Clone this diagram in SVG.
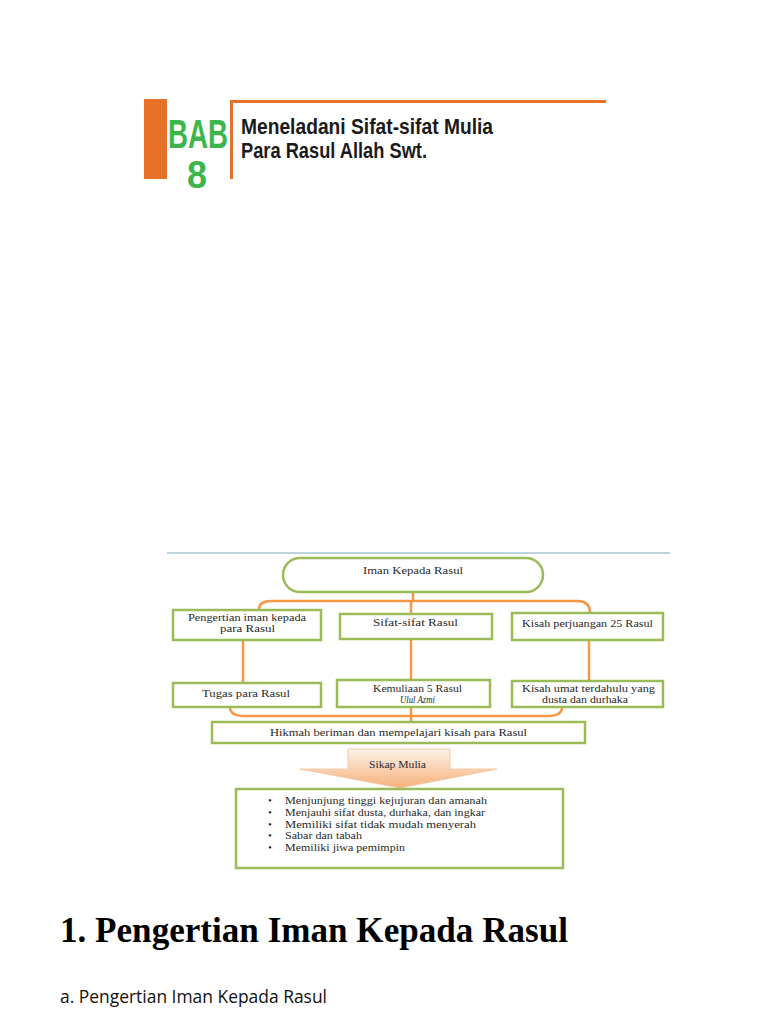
<svg xmlns="http://www.w3.org/2000/svg" width="768" height="1024" viewBox="0 0 768 1024">
<defs>
<linearGradient id="ag" x1="0" y1="0" x2="0" y2="1">
<stop offset="0" stop-color="#fdf3ea"/>
<stop offset="1" stop-color="#f6b07a"/>
</linearGradient>
<style>
.bx{fill:#fff;stroke:#9bbb59;stroke-width:2.5}
.cn{fill:none;stroke:#f79646;stroke-width:2.5}
.t{font-family:"Liberation Serif",serif;font-size:11px;fill:#2a2a2a}
.hd{font-family:"Liberation Sans",Arial,sans-serif;font-weight:bold}
</style>
</defs>
<rect width="768" height="1024" fill="#fff"/>
<g id="header">
<rect x="144" y="99" width="23" height="80" fill="#e8712a"/>
<text class="hd" x="168" y="148" font-size="40" fill="#3cb54a" textLength="60" lengthAdjust="spacingAndGlyphs">BAB</text>
<text class="hd" x="187" y="188" font-size="38" fill="#3cb54a" textLength="20" lengthAdjust="spacingAndGlyphs">8</text>
<path d="M231.5,179 V101.5 H606" fill="none" stroke="#e8712a" stroke-width="3"/>
<text class="hd" x="241" y="134" font-size="21.5" fill="#1a1a1a" textLength="252" lengthAdjust="spacingAndGlyphs">Meneladani Sifat-sifat Mulia</text>
<text class="hd" x="241" y="158" font-size="21.5" fill="#1a1a1a" textLength="186" lengthAdjust="spacingAndGlyphs">Para Rasul Allah Swt.</text>
</g>
<line x1="167" y1="553" x2="670" y2="553" stroke="#a9c4cf" stroke-width="1.5"/>
<g id="connectors">
<path class="cn" d="M413,592 V601"/>
<path class="cn" d="M259,609 Q259,601 272,601 H577 Q590,601 590,613"/>
<path class="cn" d="M411,601 V614"/>
<path class="cn" d="M243,640 V683"/>
<path class="cn" d="M411,639 V680"/>
<path class="cn" d="M589,639 V681"/>
<path class="cn" d="M230,707 Q230,716 244,716 H548 Q562,716 562,707"/>
<path class="cn" d="M411,707 V722"/>
</g>
<g id="n-iman">
<rect class="bx" x="283" y="558" width="260" height="34" rx="17"/>
<text class="t" x="363" y="574" textLength="100" lengthAdjust="spacingAndGlyphs">Iman Kepada Rasul</text>
</g>
<g id="n-pengertian">
<rect class="bx" x="173" y="610" width="148" height="30"/>
<text class="t" x="188" y="621" textLength="118" lengthAdjust="spacingAndGlyphs">Pengertian iman kepada</text>
<text class="t" x="220" y="632" textLength="55" lengthAdjust="spacingAndGlyphs">para Rasul</text>
</g>
<g id="n-sifat">
<rect class="bx" x="340" y="614" width="152" height="25"/>
<text class="t" x="373" y="626" textLength="85" lengthAdjust="spacingAndGlyphs">Sifat-sifat  Rasul</text>
</g>
<g id="n-kisah">
<rect class="bx" x="512" y="613" width="151" height="27"/>
<text class="t" x="522" y="627" textLength="131" lengthAdjust="spacingAndGlyphs">Kisah perjuangan 25 Rasul</text>
</g>
<g id="n-tugas">
<rect class="bx" x="173" y="683" width="148" height="24"/>
<text class="t" x="202" y="697" textLength="88" lengthAdjust="spacingAndGlyphs">Tugas para Rasul</text>
</g>
<g id="n-kemuliaan">
<rect class="bx" x="337" y="680" width="153" height="27"/>
<text class="t" x="373" y="692" textLength="89" lengthAdjust="spacingAndGlyphs">Kemuliaan 5 Rasul</text>
<text class="t" x="400" y="703" font-style="italic" font-size="10" textLength="35" lengthAdjust="spacingAndGlyphs">Ulul Azmi</text>
</g>
<g id="n-umat">
<rect class="bx" x="512" y="681" width="151" height="26"/>
<text class="t" x="522" y="692" textLength="133" lengthAdjust="spacingAndGlyphs">Kisah umat terdahulu yang</text>
<text class="t" x="542" y="703" textLength="86" lengthAdjust="spacingAndGlyphs">dusta dan durhaka</text>
</g>
<g id="n-hikmah">
<rect class="bx" x="212" y="722" width="373" height="21"/>
<text class="t" x="270" y="736" textLength="257" lengthAdjust="spacingAndGlyphs">Hikmah beriman dan mempelajari kisah para Rasul</text>
</g>
<g id="n-sikap">
<path d="M348,749 H450 V769 H497 L400,788 L300,769 H348 Z" fill="url(#ag)" stroke="#f3c9a6" stroke-width="1"/>
<text class="t" x="369" y="768" font-size="10" textLength="57" lengthAdjust="spacingAndGlyphs">Sikap Mulia</text>
</g>
<g id="n-list">
<rect class="bx" x="236" y="789" width="327" height="79"/>
<g class="t" font-size="10.5">
<text x="268" y="804">•</text><text x="285" y="804" textLength="202" lengthAdjust="spacingAndGlyphs">Menjunjung tinggi kejujuran dan amanah</text>
<text x="268" y="816">•</text><text x="285" y="816" textLength="200" lengthAdjust="spacingAndGlyphs">Menjauhi sifat dusta, durhaka, dan ingkar</text>
<text x="268" y="828">•</text><text x="285" y="828" textLength="191" lengthAdjust="spacingAndGlyphs">Memiliki sifat tidak mudah menyerah</text>
<text x="268" y="839">•</text><text x="285" y="839" textLength="77" lengthAdjust="spacingAndGlyphs">Sabar dan tabah</text>
<text x="268" y="851">•</text><text x="285" y="851" textLength="120" lengthAdjust="spacingAndGlyphs">Memiliki jiwa pemimpin</text>
</g>
</g>
<text x="60" y="942" font-family="Liberation Serif,serif" font-weight="bold" font-size="36" fill="#000" textLength="508" lengthAdjust="spacingAndGlyphs">1. Pengertian Iman Kepada Rasul</text>
<text x="60" y="1003" font-family="Open Sans,Liberation Sans,sans-serif" font-size="18" fill="#111" textLength="267" lengthAdjust="spacingAndGlyphs">a. Pengertian Iman Kepada Rasul</text>
</svg>
